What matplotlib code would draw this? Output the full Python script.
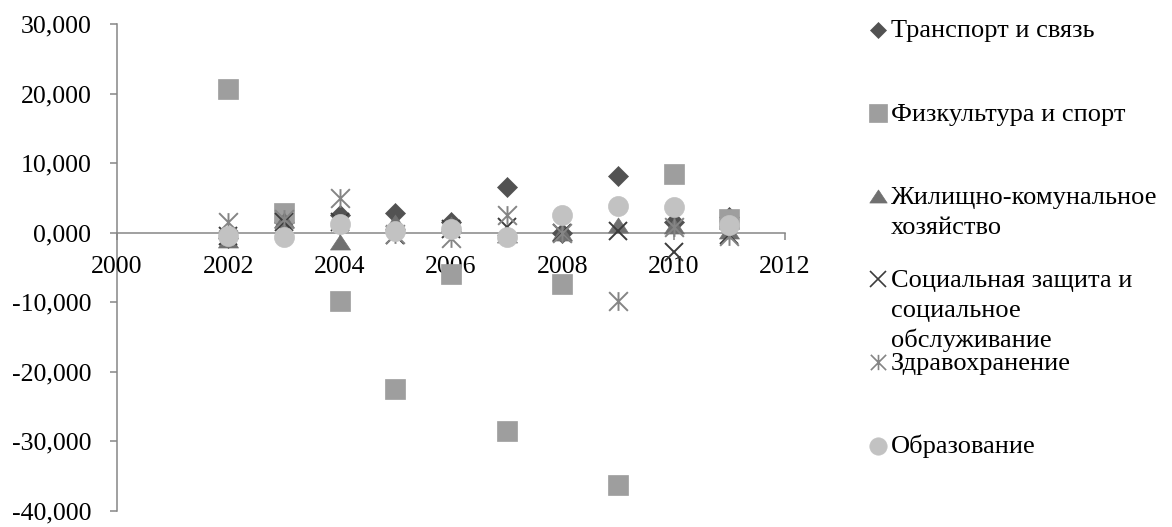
import matplotlib
matplotlib.use("Agg")
import matplotlib.pyplot as plt
from matplotlib.path import Path
from matplotlib.lines import Line2D
from matplotlib.ticker import FuncFormatter

# ---- data ----
years = [2002, 2003, 2004, 2005, 2006, 2007, 2008, 2009, 2010, 2011]
series_names = [
    "Транспорт и связь",
    "Физкультура и спорт",
    "Жилищно-комунальное\nхозяйство",
    "Социальная защита и\nсоциальное\nобслуживание",
    "Здравохранение",
    "Образование",
]
transport = [-0.8, 1.5, 2.5, 2.8, 1.5, 6.5, 0.0, 8.2, 1.6, 2.2]
sport = [20.6, 2.9, -9.8, -22.5, -6.0, -28.5, -7.3, -36.2, 8.5, 2.0]
housing = [-1.0, 1.8, -1.3, 1.6, 1.2, -0.3, 0.0, 1.1, 1.0, 0.3]
social = [-0.5, 1.5, 1.5, -0.3, 0.5, 0.8, 0.0, 0.3, -2.8, -0.3]
health = [1.5, 2.0, 5.0, -0.2, -0.8, 2.6, 0.0, -9.8, 0.8, -0.5]
education = [-0.5, -0.6, 1.3, 0.2, 0.5, -0.6, 2.6, 3.8, 3.7, 1.1]
x_ticks = [2000, 2002, 2004, 2006, 2008, 2010, 2012]
y_ticks = [-40, -30, -20, -10, 0, 10, 20, 30]

# ---- styles ----
tri_path = Path([(-1, -0.75), (1, -0.75), (0, 0.75), (-1, -0.75)],
                [Path.MOVETO, Path.LINETO, Path.LINETO, Path.CLOSEPOLY])
ast_path = Path([(-1, -1), (1, 1), (-1, 1), (1, -1), (0, -1), (0, 1)],
                [Path.MOVETO, Path.LINETO, Path.MOVETO, Path.LINETO,
                 Path.MOVETO, Path.LINETO])

styles = [
    dict(marker="D", ms=10.2, mfc="#525252", mec="#525252", mew=0.5),
    dict(marker="s", ms=14.8, mfc="#9e9e9e", mec="#9e9e9e", mew=0.5),
    dict(marker=tri_path, ms=14.4, mfc="#707070", mec="#707070", mew=0.5),
    dict(marker="x", ms=12.5, mfc="none", mec="#3c3c3c", mew=1.4),
    dict(marker=ast_path, ms=13.5, mfc="none", mec="#858585", mew=1.4),
    dict(marker="o", ms=14.4, mfc="#c2c2c2", mec="#c2c2c2", mew=0.5),
]
legend_styles = [
    dict(marker="D", ms=8.6, mfc="#525252", mec="#525252", mew=0.5),
    dict(marker="s", ms=12.5, mfc="#9e9e9e", mec="#9e9e9e", mew=0.5),
    dict(marker=tri_path, ms=12.5, mfc="#707070", mec="#707070", mew=0.5),
    dict(marker="x", ms=11, mfc="none", mec="#3c3c3c", mew=1.2),
    dict(marker=ast_path, ms=11, mfc="none", mec="#858585", mew=1.2),
    dict(marker="o", ms=12.5, mfc="#c2c2c2", mec="#c2c2c2", mew=0.5),
]

FONT = "Liberation Serif"
FS_TICK = 18.6
FS_LEG = 19.0
W, H = 1172, 527

fig = plt.figure(figsize=(W / 100, H / 100), dpi=100)
ax = fig.add_axes([117 / W, 1 - 511 / H, (785 - 117) / W, (511 - 24) / H])

all_series = [transport, sport, housing, social, health, education]
for vals, st in zip(all_series, styles):
    ax.plot(years, vals, linestyle="none", clip_on=False, **st)

ax.set_xlim(2000, 2012)
ax.set_ylim(-40, 30)
ax.set_xticks(x_ticks)
ax.set_yticks(y_ticks)
ax.yaxis.set_major_formatter(FuncFormatter(lambda v, p: f"{v:.3f}".replace(".", ",")))

axis_col = "#868686"
for s in ["top", "right"]:
    ax.spines[s].set_visible(False)
ax.spines["bottom"].set_position(("data", 0))
for s in ["left", "bottom"]:
    ax.spines[s].set_color(axis_col)
    ax.spines[s].set_linewidth(1.1)
    ax.spines[s].set_zorder(0.5)

ax.tick_params(axis="x", direction="out", length=5, width=1.1, color=axis_col,
               pad=12, labelsize=FS_TICK, labelcolor="black")
ax.tick_params(axis="y", direction="out", length=5.4, width=1.1, color=axis_col,
               pad=13, labelsize=FS_TICK, labelcolor="black")
for lab in ax.get_xticklabels() + ax.get_yticklabels():
    lab.set_fontfamily(FONT)

# ---- legend (manual, Excel-like layout) ----
mx = 878 / W
tx = 891 / W
for i, (name, st) in enumerate(zip(series_names, legend_styles)):
    yc = 30 + 83.1 * i
    fig.add_artist(Line2D([mx], [1 - yc / H], transform=fig.transFigure,
                          linestyle="none", **st))
    for k, line in enumerate(name.split("\n")):
        yb = yc + 7.5 + 30 * k
        fig.text(tx, 1 - yb / H, line, fontsize=FS_LEG, family=FONT,
                 ha="left", va="baseline", color="black")

fig.savefig("out.png", dpi=100)
